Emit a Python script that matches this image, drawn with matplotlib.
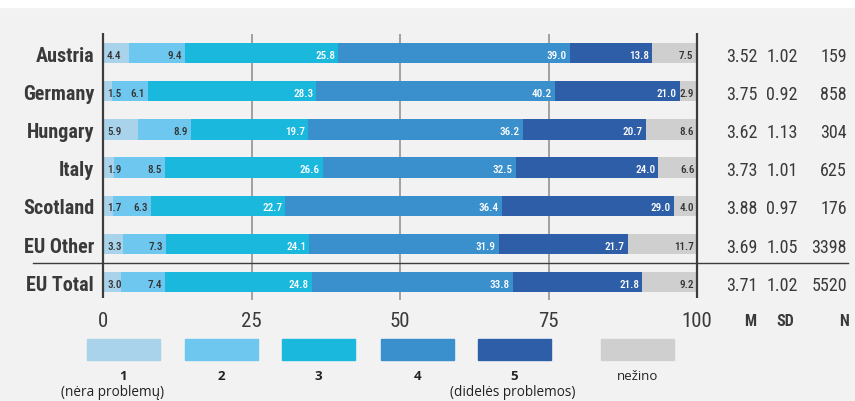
import matplotlib
matplotlib.use("Agg")
import matplotlib.pyplot as plt
from matplotlib import font_manager as fm
from matplotlib.patches import Rectangle
import numpy as np

# ---------------- data ----------------
countries = ["Austria", "Germany", "Hungary", "Italy", "Scotland", "EU Other", "EU Total"]
cat_labels = ["1", "2", "3", "4", "5", "nežino"]
cat_sub = ["(nėra problemų)", "", "", "", "(didelės problemos)", ""]
s1 = [4.4, 1.5, 5.9, 1.9, 1.7, 3.3, 3.0]
s2 = [9.4, 6.1, 8.9, 8.5, 6.3, 7.3, 7.4]
s3 = [25.8, 28.3, 19.7, 26.6, 22.7, 24.1, 24.8]
s4 = [39.0, 40.2, 36.2, 32.5, 36.4, 31.9, 33.8]
s5 = [13.8, 21.0, 20.7, 24.0, 29.0, 21.7, 21.8]
s_dk = [7.5, 2.9, 8.6, 6.6, 4.0, 11.7, 9.2]
mean_vals = ["3.52", "3.75", "3.62", "3.73", "3.88", "3.69", "3.71"]
sd_vals = ["1.02", "0.92", "1.13", "1.01", "0.97", "1.05", "1.02"]
n_vals = ["159", "858", "304", "625", "176", "3398", "5520"]
x_ticks = [0, 25, 50, 75, 100]
col_headers = ["M", "SD", "N"]

colors = ["#a9d3eb", "#6ec7ee", "#1bb8de", "#3a8fcd", "#2f5ea8", "#cfcfcf"]
text_colors = ["#333333", "#333333", "white", "white", "white", "#333333"]
BG = "#f2f2f2"

# ---------------- fonts ----------------
def _is_cond(f):
    fn = f.fname.lower()
    st = str(f.stretch).lower()
    return ("condensed" in fn or "narrow" in fn or st in
            ("condensed", "semi-condensed", "extra-condensed", "ultra-condensed"))

def _wt(f):
    w = f.weight
    if isinstance(w, str):
        w = {"bold": 700, "semibold": 600, "demibold": 600, "heavy": 800,
             "black": 900, "extra bold": 800, "normal": 400, "regular": 400,
             "light": 300, "medium": 500}.get(w, 400)
    return int(w)

prio = ["roboto", "opensans", "open sans", "dejavu", "liberation", "noto", "lato", "inter"]

def find_cond(target):
    cands = []
    for f in fm.fontManager.ttflist:
        if not _is_cond(f):
            continue
        fn = f.fname.lower()
        if "italic" in fn or "oblique" in fn or f.style != "normal":
            continue
        w = _wt(f)
        p = next((k for k, key in enumerate(prio) if key in fn or key in f.name.lower()), 99)
        cands.append((abs(w - target), p, f.fname))
    if not cands:
        return None
    cands.sort()
    return cands[0][2]

cb = find_cond(700)
cm = find_cond(500)
cr = find_cond(400)
COND = cb is not None and cr is not None
if COND:
    fp_cb = fm.FontProperties(fname=cb)
    fp_cm = fm.FontProperties(fname=cm) if cm else fp_cb
    fp_cr = fm.FontProperties(fname=cr)
    SC = 1.0
else:
    fp_cb = fm.FontProperties(family="DejaVu Sans", weight="bold")
    fp_cm = fp_cb
    fp_cr = fm.FontProperties(family="DejaVu Sans")
    SC = 0.82

# ---------------- layout ----------------
W, H = 855, 401
X0, PXU = 103.0, 5.94      # pixel of x=0, pixels per unit
Y0, PYU = 53.0, 38.2       # pixel of first row centre, pixels per row

def X(px):
    return (px - X0) / PXU

def Y(py):
    return (py - Y0) / PYU

def DY(dpx):
    return dpx / PYU

fig = plt.figure(figsize=(W / 100, H / 100), dpi=100, facecolor=BG)
ax = fig.add_axes([0, 0, 1, 1])
ax.set_facecolor(BG)
ax.set_xlim(X(0), X(W))
ax.set_ylim(Y(H), Y(0))
ax.axis("off")

fig.patches.append(Rectangle((0, 1 - 7 / H), 1, 7 / H, transform=fig.transFigure,
                             color="white", zorder=0))

ypos = np.arange(len(countries))
series = [s1, s2, s3, s4, s5, s_dk]
TXT = "#3a3a3a"

# grid lines
ax.vlines(x_ticks[1:-1], Y(34), Y(300), color="#8a8a8a", lw=1.1, zorder=1)

left = np.zeros(len(countries))
for i, s in enumerate(series):
    vals = np.array(s)
    ax.barh(ypos, vals, left=left, height=0.53, color=colors[i], zorder=2)
    for j, v in enumerate(vals):
        yb = ypos[j] + DY(5.5)
        if i == 0:
            ax.text(left[j] + X(107), yb, f"{v:.1f}", ha="left", va="baseline",
                    fontproperties=fp_cm, fontsize=8 * SC, color=text_colors[i], zorder=4)
        else:
            ax.text(left[j] + v - 3 / PXU, yb, f"{v:.1f}", ha="right", va="baseline",
                    fontproperties=fp_cm, fontsize=8 * SC, color=text_colors[i], zorder=4)
    left = left + vals

# axis lines at 0 and 100
ax.vlines([x_ticks[0], x_ticks[-1]], Y(33), Y(298), color="#3c3c3c", lw=1.6, zorder=3)

# separator between EU Other and EU Total
ax.plot([X(33), X(848)], [ypos[-1] - 0.5, ypos[-1] - 0.5], color="#3c3c3c", lw=1.0, zorder=3)

# country labels
for j, c in enumerate(countries):
    ax.text(X(94), ypos[j] + DY(8.5), c, ha="right", va="baseline", fontproperties=fp_cb,
            fontsize=14.5 * SC, color=TXT)

# stats columns
for j in range(len(countries)):
    yb = ypos[j] + DY(8.5)
    ax.text(X(742), yb, mean_vals[j], ha="center", va="baseline", fontproperties=fp_cr,
            fontsize=13 * SC, color=TXT)
    ax.text(X(782), yb, sd_vals[j], ha="center", va="baseline", fontproperties=fp_cr,
            fontsize=13 * SC, color=TXT)
    ax.text(X(847), yb, n_vals[j], ha="right", va="baseline", fontproperties=fp_cr,
            fontsize=13 * SC, color=TXT)

# tick labels
for t in x_ticks:
    ax.text(t, Y(327), str(t), ha="center", va="baseline", fontproperties=fp_cr,
            fontsize=15 * SC, color=TXT)
for h, px in zip(col_headers, [750, 785, 844]):
    ax.text(X(px), Y(326), h, ha="center", va="baseline", fontproperties=fp_cb,
            fontsize=11.5 * SC, color=TXT)

# legend
leg_left = [87, 185, 282, 381, 478, 601]
leg_w = 73
sub_off = [-11, 0, 0, 0, -2, 0]
for i, lab in enumerate(cat_labels):
    ax.add_patch(Rectangle((X(leg_left[i]), Y(360)), leg_w / PXU, Y(339) - Y(360),
                           color=colors[i], zorder=2))
    cx = X(leg_left[i] + leg_w / 2)
    ax.text(cx, Y(377), lab, ha="center", va="center", family="Open Sans",
            fontsize=9.5, fontweight="normal" if lab == "nežino" else "bold", color="#222222")
    if cat_sub[i]:
        ax.text(cx + sub_off[i] / PXU, Y(392), cat_sub[i], ha="center", va="center",
                family="Open Sans", fontsize=9.8, color="#222222")

fig.savefig("out.png", dpi=100, facecolor=BG)
